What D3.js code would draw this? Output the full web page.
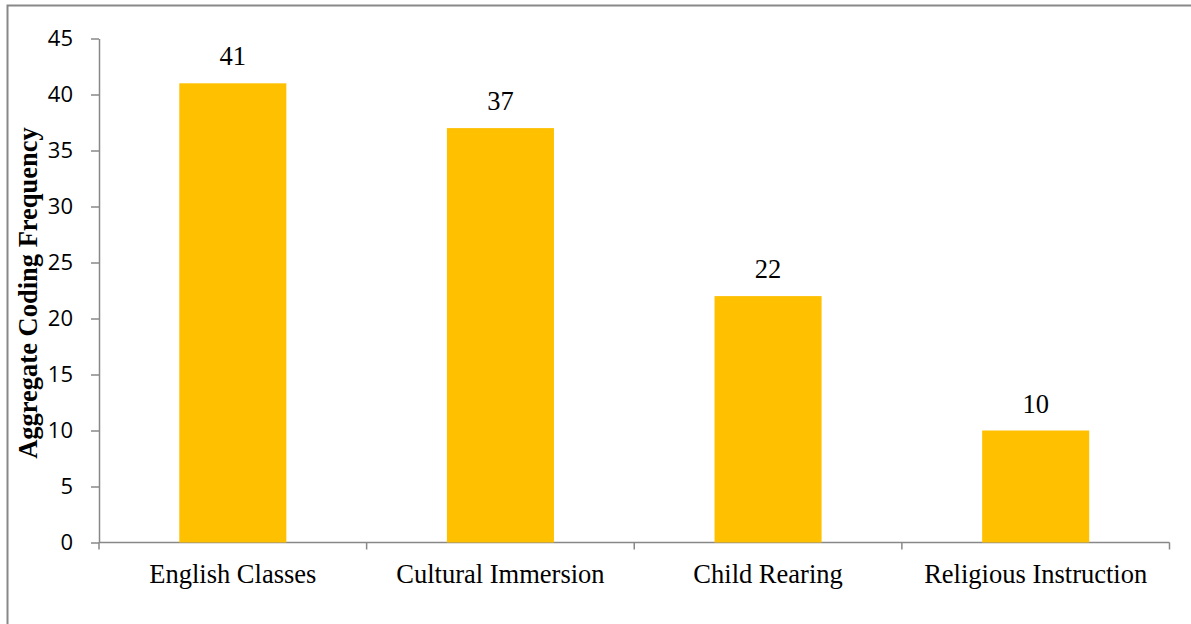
<!DOCTYPE html>
<html><head><meta charset="utf-8">
<script src="https://cdn.jsdelivr.net/npm/d3@7"></script>
<style>body{margin:0;background:#fff}</style>
</head><body>
<svg id="c" width="1191" height="624"></svg>
<script>
const categories = ["English Classes","Cultural Immersion","Child Rearing","Religious Instruction"];
const values = [41,37,22,10];
const yTicks = [0,5,10,15,20,25,30,35,40,45];
const yTitle = "Aggregate Coding Frequency";

const svg = d3.select("#c");
// outer frame
svg.append("path").attr("d","M7.5,624 L7.5,5.5 L1191,5.5").attr("fill","none").attr("stroke","#888").attr("stroke-width",2);

const x0 = 99, x1 = 1169.5, yTop = 38.5, yBot = 542.5;
const x = d3.scaleBand().domain(categories).range([x0,x1]).paddingInner(0.6).paddingOuter(0.3);
const y = d3.scaleLinear().domain([0,45]).range([yBot,yTop]);

// y axis
const ya = svg.append("g").attr("transform",`translate(${x0},0)`)
  .call(d3.axisLeft(y).tickValues(yTicks).tickSize(8).tickPadding(18).tickSizeOuter(0));
ya.select(".domain").attr("stroke","#888").attr("stroke-width",1.5);
ya.selectAll(".tick line").attr("stroke","#888").attr("stroke-width",1.5);
ya.selectAll("text").style("font-family","'Open Sans', sans-serif").style("font-size","22px").attr("fill","#000");

// x axis
const xb = d3.scaleLinear().domain([0,categories.length]).range([x0,x1]);
const xa = svg.append("g").attr("transform",`translate(0,${yBot})`);
xa.append("line").attr("x1",x0).attr("x2",x1).attr("stroke","#888").attr("stroke-width",1.5);
xa.selectAll("line.t").data(d3.range(categories.length+1)).join("line").attr("class","t")
  .attr("x1",d=>xb(d)).attr("x2",d=>xb(d)).attr("y1",0).attr("y2",7).attr("stroke","#888").attr("stroke-width",1.5);
xa.selectAll("text").data(categories).join("text")
  .attr("x",(d,i)=>xb(i+0.5)).attr("y",40.5).attr("text-anchor","middle")
  .attr("font-family","'Liberation Serif', serif").attr("font-size",26.5).text(d=>d);

// bars
svg.selectAll("rect.bar").data(values).join("rect").attr("class","bar")
  .attr("x",(d,i)=>x(categories[i])).attr("width",x.bandwidth())
  .attr("y",d=>y(d)).attr("height",d=>y(0)-y(d)).attr("fill","#FFC000");

// value labels
svg.selectAll("text.val").data(values).join("text").attr("class","val")
  .attr("x",(d,i)=>x(categories[i])+x.bandwidth()/2).attr("y",d=>y(d)-18)
  .attr("text-anchor","middle").attr("font-family","'Liberation Serif', serif").attr("font-size",26.5).text(d=>d);

// y title
svg.append("text").attr("transform",`translate(37,293) rotate(-90)`)
  .attr("text-anchor","middle").attr("font-family","'Liberation Serif', serif").attr("font-weight","bold")
  .attr("font-size",26.5).text(yTitle);
</script>
</body></html>
